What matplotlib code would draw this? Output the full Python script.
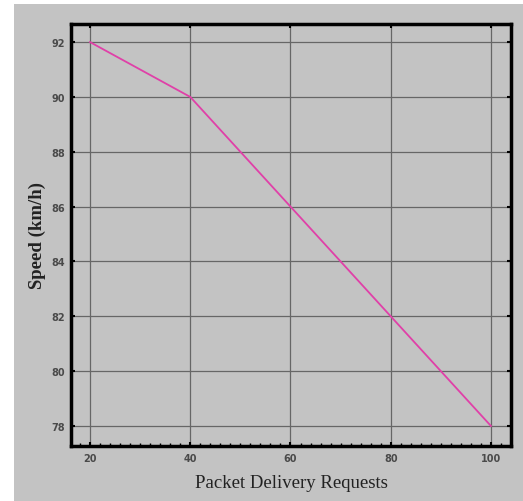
import matplotlib
matplotlib.use('Agg')
import matplotlib.pyplot as plt
from matplotlib.patches import Rectangle
from matplotlib.ticker import MultipleLocator

# data
requests = [20, 40, 60, 80, 100]
speed = [92, 90, 86, 82, 78]
x_ticks = [20, 40, 60, 80, 100]
y_ticks = [78, 80, 82, 84, 86, 88, 90, 92]

W, H = 523, 502
fig = plt.figure(figsize=(W / 100, H / 100), dpi=100)
fig.patch.set_facecolor('white')

# gray panel behind everything
fig.patches.append(Rectangle((14 / W, 0), 1 - 14 / W, 1 - 5 / H,
                             transform=fig.transFigure, facecolor='#c3c3c3',
                             edgecolor='none', zorder=-10))

ax = fig.add_axes([71 / W, 1 - 447 / H, (511 - 71) / W, (447 - 25) / H])
ax.set_facecolor('#c3c3c3')

ax.plot(requests, speed, color='#e040a8', linewidth=1.3, zorder=3)

ax.set_xlim(16.2, 104)
ax.set_ylim(77.27, 92.66)
ax.set_xticks(x_ticks)
ax.set_yticks(y_ticks)
ax.xaxis.set_minor_locator(MultipleLocator(2))
ax.grid(True, which='major', color='#666666', linewidth=0.9)

for s in ax.spines.values():
    s.set_linewidth(2.5)
    s.set_color('black')

ax.tick_params(which='major', direction='in', length=3, width=1.5,
               top=True, right=True, labelsize=7, labelcolor='#4a4a4a', pad=5)
ax.tick_params(axis='y', which='major', pad=4)
ax.tick_params(which='minor', direction='in', length=2, width=1,
               top=False, bottom=True)
for lab in ax.get_xticklabels() + ax.get_yticklabels():
    lab.set_fontweight('bold')

ax.set_xlabel('Packet Delivery Requests', family='Liberation Serif',
              fontsize=13.5, color='#222222', labelpad=8)
ax.set_ylabel('Speed (km/h)', family='Liberation Serif', fontsize=13.5,
              fontweight='bold', color='#222222', labelpad=4)

fig.savefig('out.png', dpi=100)
